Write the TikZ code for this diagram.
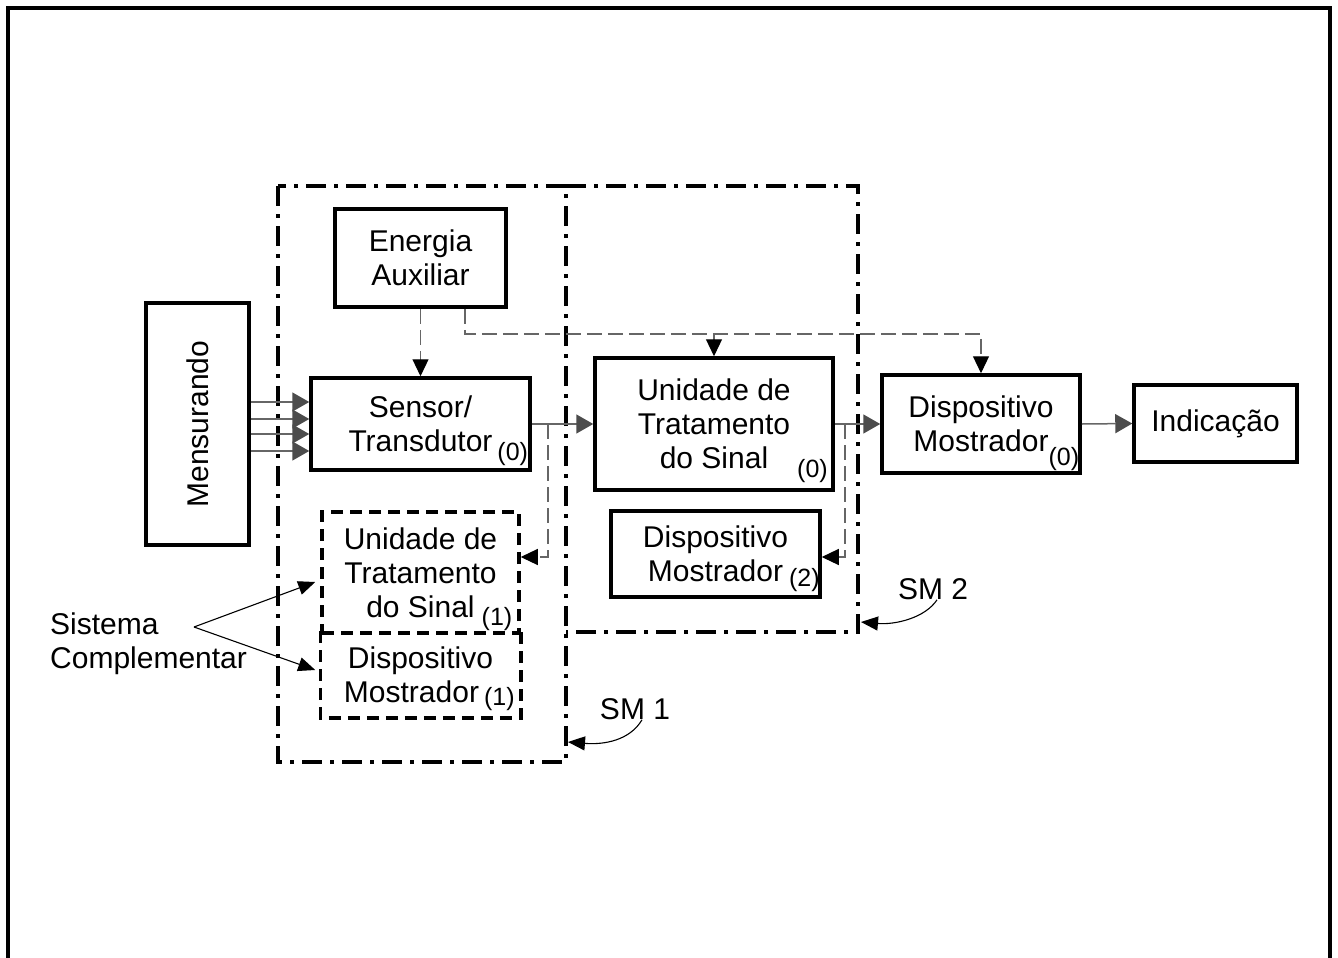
\documentclass[tikz,border=0pt]{standalone}
\usepackage{fontspec}
\setmainfont{Liberation Sans}
\usetikzlibrary{arrows.meta,calc}
% lowered index such as (0), (1), (2); smashed so it does not move the lines
\newcommand\sbs[2][8pt]{\smash{\raisebox{-#1}{\fontsize{25}{25}\selectfont #2}}}
\begin{document}
\begin{tikzpicture}[x=1pt,y=-1pt,
  font=\fontsize{30}{34}\selectfont,
  box/.style={draw, line width=3.5pt, inner sep=0pt, align=center},
  dpat/.style={line width=3.5pt, dash pattern=on 12pt off 7pt},
  dbox/.style={box, dpat},
  frame/.style={line width=4pt, dash pattern=on 20pt off 8pt on 4pt off 8pt},
  sig/.style={draw=black!60, line width=1.5pt,
    -{Triangle[length=17pt,width=19pt,color=black!70]}},
  aux/.style={draw=black!60, line width=1.2pt, dash pattern=on 15pt off 6pt,
    -{Triangle[length=17pt,width=16pt,color=black]}},
  pointer/.style={draw=black, line width=1.1pt,
    -{Triangle[length=17pt,width=14pt,color=black]}},
  lbl/.style={inner sep=0pt}
]
\useasboundingbox (0,0) rectangle (1338,958);

% outer frame, open at the bottom
\draw[line width=3.5pt] (8,958) -- (8,8) -- (1330,8) -- (1330,958);

% measuring systems SM 1 and SM 2
\draw[frame] (278,186) rectangle (566,762);
\draw[frame] (566,186) -- (858,186) -- (858,632) -- (566,632);

% blocks
\node[box, minimum width=103, minimum height=242] (men) at (197.5,424) {\rotatebox{90}{Mensurando}};
\node[box, minimum width=171, minimum height=98] (en) at (420.5,258) {Energia\\Auxiliar};
\node[box, minimum width=219, minimum height=92] (sen) at (420.5,424)
  {Sensor/\\Transdutor\rlap{\hspace{5pt}\sbs[9pt]{(0)}}};
\node[box, minimum width=238, minimum height=132] (un) at (714,424)
  {Unidade de\\Tratamento\\do Sinal\rlap{\hspace{29pt}\sbs[9pt]{(0)}}};
\node[box, minimum width=209, minimum height=86] (d2) at (715.5,554)
  {Dispositivo\\Mostrador\rlap{\hspace{6pt}\sbs[5pt]{(2)}}};
\node[box, minimum width=198, minimum height=98] (d0) at (981,424)
  {Dispositivo\\Mostrador\rlap{\hspace{0pt}\sbs[14pt]{(0)}}};
\node[box, minimum width=163, minimum height=77] (ind) at (1215.5,423.5) {Indicação};
\node[dbox, minimum width=197, minimum height=121] (u1) at (420.5,572.5)
  {Unidade de\\Tratamento\\do Sinal\rlap{\hspace{7pt}\sbs{(1)}}};
\node[box, draw=none, minimum width=197, minimum height=83] (d1) at (420.5,674.5)
  {Dispositivo\\\hspace*{-18pt}Mostrador\rlap{\hspace{5pt}\sbs[3pt]{(1)}}};
% lower dashed block shares its top edge with the block above
\draw[dpat] (d1.north west) -- (d1.south west) -- (d1.south east) -- (d1.north east);

% measurand inputs
\foreach \yy in {402,419,434,451}
  \draw[sig] (men.east |- 0,\yy) -- (sen.west |- 0,\yy);

% main signal chain
\coordinate (b1) at (548,424);
\coordinate (b2) at (845,424);
\draw[sig] (sen.east) -- (un.west);
\draw[sig] (un.east) -- (d0.west);
\draw[sig] (d0.east) -- (ind.west);
\draw[aux] (b1) |- ([yshift=15.5pt]u1.east);
\draw[aux] (b2) |- ([yshift=-3pt]d2.east);

% auxiliary energy supply
\coordinate (bus) at (465,334);
\draw[aux] (en.south) -- (sen.north);
\draw[aux] (en.south -| bus) -- (bus) -| (d0.north);
\draw[aux] (bus -| un.north) -- (un.north);

% complementary system
\node[lbl, align=left, anchor=west] (sc) at (50,644) {Sistema\\Complementar};
\coordinate (apex) at (194,627);
\draw[pointer] (apex) -- ([xshift=-5pt,yshift=-9.5pt]u1.west);
\draw[pointer] (apex) -- ([xshift=-5pt,yshift=4.5pt]d1.west);

% system labels
\node[lbl] (sm2) at (933,589) {SM 2};
\node[lbl] (sm1) at (635,709) {SM 1};
\coordinate (sm2tip) at (861,622);
\coordinate (sm1tip) at (568,742);
\draw[pointer] ([xshift=4pt]sm2.south) .. controls (925,618) and (895,625) .. (sm2tip);
\draw[pointer] ([xshift=7pt]sm1.south) .. controls (630,740) and (605,745) .. (sm1tip);
\end{tikzpicture}
\end{document}
